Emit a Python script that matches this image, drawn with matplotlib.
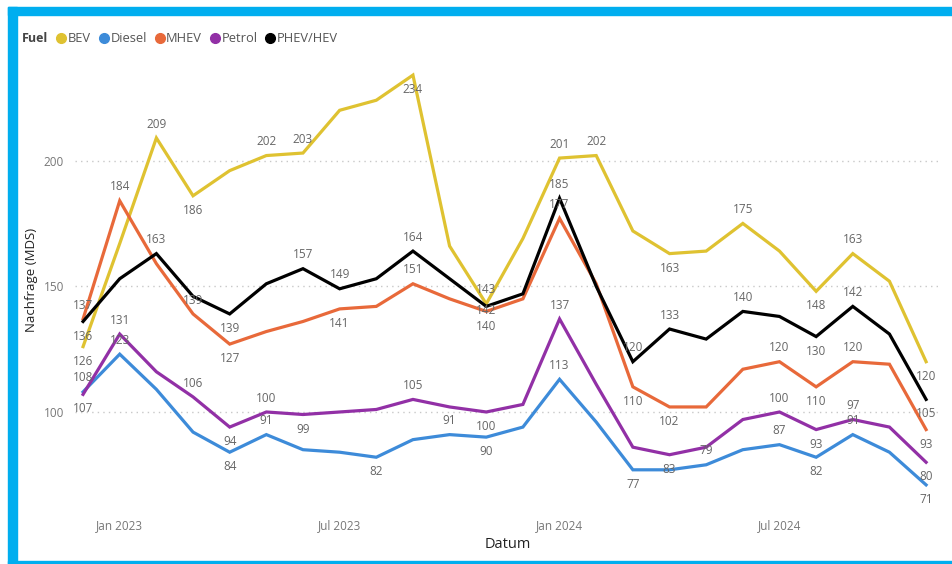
import matplotlib.pyplot as plt
import matplotlib.patches as patches
from matplotlib.lines import Line2D

plt.rcParams['font.family'] = ['Open Sans', 'DejaVu Sans']

# Monthly demand, Dec 2022 .. Nov 2024
months = ["Dec 2022", "Jan 2023", "Feb 2023", "Mar 2023", "Apr 2023", "May 2023",
          "Jun 2023", "Jul 2023", "Aug 2023", "Sep 2023", "Oct 2023", "Nov 2023",
          "Dec 2023", "Jan 2024", "Feb 2024", "Mar 2024", "Apr 2024", "May 2024",
          "Jun 2024", "Jul 2024", "Aug 2024", "Sep 2024", "Oct 2024", "Nov 2024"]
bev = [126, 167, 209, 186, 196, 202, 203, 220, 224, 234, 166, 143,
       169, 201, 202, 172, 163, 164, 175, 164, 148, 163, 152, 120]
diesel = [108, 123, 109, 92, 84, 91, 85, 84, 82, 89, 91, 90,
          94, 113, 96, 77, 77, 79, 85, 87, 82, 91, 84, 71]
mhev = [137, 184, 159, 139, 127, 132, 136, 141, 142, 151, 145, 140,
        145, 177, 151, 110, 102, 102, 117, 120, 110, 120, 119, 93]
petrol = [107, 131, 116, 106, 94, 100, 99, 100, 101, 105, 102, 100,
          103, 137, 111, 86, 83, 86, 97, 100, 93, 97, 94, 80]
phev = [136, 153, 163, 146, 139, 151, 157, 149, 153, 164, 153, 142,
        147, 185, 150, 120, 133, 129, 140, 138, 130, 142, 131, 105]

tick_months = ["Jan 2023", "Jul 2023", "Jan 2024", "Jul 2024"]

# which points get a data label (above / below / on the point)
series = [
    ("BEV", bev, "#DFC231", [2, 5, 6, 11, 13, 14, 18, 21], [0, 3, 9, 16, 20, 23], []),
    ("Diesel", diesel, "#3D8BD9", [0, 1, 5, 10, 13, 17, 19, 21], [4, 8, 11, 15, 20, 23], []),
    ("MHEV", mhev, "#E8693A", [0, 1, 3, 9, 13, 19, 21], [4, 7, 11, 15, 16, 20, 23], []),
    ("Petrol", petrol, "#9230A6", [1, 3, 5, 9, 13, 19, 21], [0, 4, 6, 11, 16, 20, 23], []),
    ("PHEV/HEV", phev, "#000000", [2, 6, 7, 9, 13, 15, 16, 18, 21], [0, 4, 20, 23], [11]),
]

fig = plt.figure(figsize=(9.53, 5.64), dpi=100)
ax = fig.add_axes([0.0787, 0.1046, 0.9073, 0.7979])

x = list(range(len(months)))
for name, vals, col, above, below, middle in series:
    ax.plot(x, vals, color=col, lw=2.3, solid_joinstyle="miter")
    for idx, dy in [(above, 10), (below, -10.5), (middle, -3)]:
        for i in idx:
            ax.annotate(str(vals[i]), (i, vals[i]), xytext=(0, dy), textcoords="offset points",
                        ha="center", va="center", fontsize=8.5, color="#666666")

ax.set_xlim(-0.22, 23.37)
ax.set_ylim(63, 242)
ax.set_yticks([100, 150, 200])
ax.set_xticks([months.index(m) for m in tick_months])
ax.set_xticklabels(tick_months)
ax.tick_params(length=0, labelsize=8.5, labelcolor="#777777", pad=8)
ax.tick_params(axis="x", pad=10)
ax.grid(axis="y", linestyle=(0, (1, 3)), color="#C8C8C8", lw=1)
for s in ax.spines.values():
    s.set_visible(False)

ax.set_ylabel("Nachfrage (MDS)", fontsize=9.5, color="#222222", labelpad=4)
ax.set_xlabel("Datum", fontsize=10.5, color="#222222", labelpad=4)

# legend
fig.text(22 / 953, 1 - 38 / 564, "Fuel", fontsize=9, fontweight="bold", color="#444444",
         va="center", ha="left")
handles = [Line2D([], [], ls="none", marker="o", ms=7, color=s[2]) for s in series]
fig.legend(handles, [s[0] for s in series], loc="center left",
           bbox_to_anchor=(55 / 953, 1 - 39 / 564), ncol=5, frameon=False,
           fontsize=9.3, handletextpad=0.0, columnspacing=0.5, handlelength=1.0,
           labelcolor="#555555", borderaxespad=0, borderpad=0)

# cyan frame
cyan = "#00AEEF"
fig.patches.append(patches.Rectangle((8 / 953, 0), 9 / 953, 1 - 7 / 564,
                                     transform=fig.transFigure, color=cyan, zorder=0))
fig.patches.append(patches.Rectangle((8 / 953, 1 - 15 / 564), 1, 8 / 564,
                                     transform=fig.transFigure, color=cyan, zorder=0))
fig.patches.append(patches.Rectangle((8 / 953, 0), 1, 3 / 564,
                                     transform=fig.transFigure, color=cyan, zorder=0))

fig.savefig("out.png", dpi=100)
